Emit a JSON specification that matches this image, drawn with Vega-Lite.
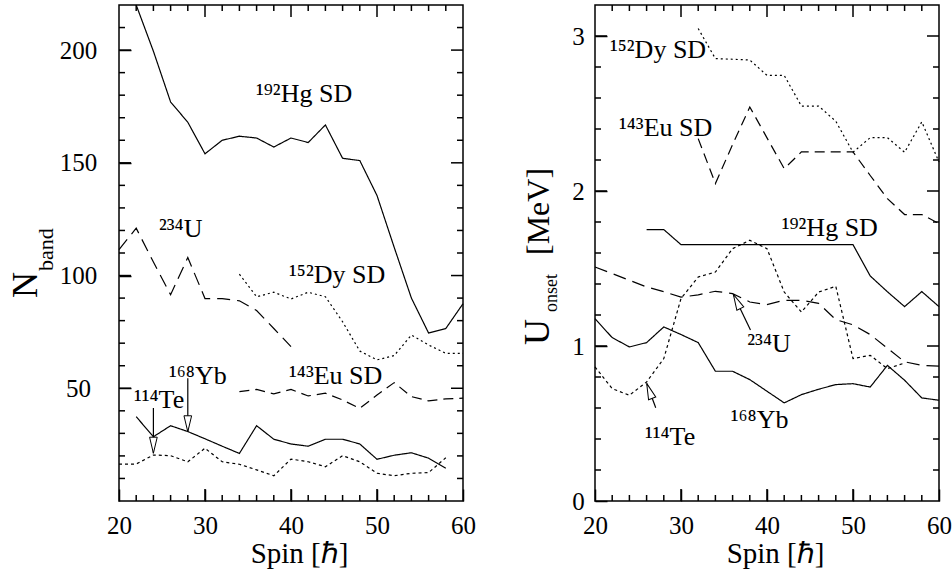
{
  "$schema": "https://vega.github.io/schema/vega-lite/v6.json",
  "background": "white",
  "padding": {"left": 7, "top": 1, "right": 0, "bottom": 0},
  "spacing": 42,
  "config": {
    "view": {"stroke": "black", "strokeWidth": 1.5},
    "axis": {
      "grid": false,
      "domain": false,
      "labelFont": "Liberation Serif",
      "labelFontSize": 25,
      "labelColor": "black",
      "labelFlush": false,
      "labelOverlap": false,
      "labelBound": false,
      "titleFont": "Liberation Serif",
      "titleFontSize": 29,
      "titleFontWeight": "normal",
      "titleColor": "black"
    },
    "text": {"font": "Liberation Serif", "color": "black"}
  },
  "datasets": {
    "nband": [
      {"series": "Hg192", "spin": 22, "value": 220}, {"series": "Hg192", "spin": 24, "value": 199.5}, {"series": "Hg192", "spin": 26, "value": 177}, {"series": "Hg192", "spin": 28, "value": 168}, {"series": "Hg192", "spin": 30, "value": 154}, {"series": "Hg192", "spin": 32, "value": 160}, {"series": "Hg192", "spin": 34, "value": 161.8}, {"series": "Hg192", "spin": 36, "value": 161}, {"series": "Hg192", "spin": 38, "value": 157}, {"series": "Hg192", "spin": 40, "value": 161}, {"series": "Hg192", "spin": 42, "value": 159}, {"series": "Hg192", "spin": 44, "value": 166.8}, {"series": "Hg192", "spin": 46, "value": 152}, {"series": "Hg192", "spin": 48, "value": 151}, {"series": "Hg192", "spin": 50, "value": 135.5}, {"series": "Hg192", "spin": 52, "value": 112.5}, {"series": "Hg192", "spin": 54, "value": 90}, {"series": "Hg192", "spin": 56, "value": 74.5}, {"series": "Hg192", "spin": 58, "value": 76.5}, {"series": "Hg192", "spin": 60, "value": 87.5},
      {"series": "U234", "spin": 20, "value": 111.5}, {"series": "U234", "spin": 22, "value": 121}, {"series": "U234", "spin": 24, "value": 106}, {"series": "U234", "spin": 26, "value": 91.5}, {"series": "U234", "spin": 28, "value": 108}, {"series": "U234", "spin": 30, "value": 89.8}, {"series": "U234", "spin": 32, "value": 89.8}, {"series": "U234", "spin": 34, "value": 88.8}, {"series": "U234", "spin": 36, "value": 84.5}, {"series": "U234", "spin": 38, "value": 76.5}, {"series": "U234", "spin": 40, "value": 68.5},
      {"series": "Dy152", "spin": 34, "value": 100.6}, {"series": "Dy152", "spin": 36, "value": 90.6}, {"series": "Dy152", "spin": 38, "value": 92.6}, {"series": "Dy152", "spin": 40, "value": 89.6}, {"series": "Dy152", "spin": 42, "value": 92.6}, {"series": "Dy152", "spin": 44, "value": 90.6}, {"series": "Dy152", "spin": 46, "value": 79.5}, {"series": "Dy152", "spin": 48, "value": 66.5}, {"series": "Dy152", "spin": 50, "value": 62.6}, {"series": "Dy152", "spin": 52, "value": 64.5}, {"series": "Dy152", "spin": 54, "value": 73.6}, {"series": "Dy152", "spin": 56, "value": 69.2}, {"series": "Dy152", "spin": 58, "value": 65.5}, {"series": "Dy152", "spin": 60, "value": 65.5},
      {"series": "Eu143", "spin": 34, "value": 48.5}, {"series": "Eu143", "spin": 36, "value": 49.5}, {"series": "Eu143", "spin": 38, "value": 47.5}, {"series": "Eu143", "spin": 40, "value": 49.5}, {"series": "Eu143", "spin": 42, "value": 46.6}, {"series": "Eu143", "spin": 44, "value": 47.8}, {"series": "Eu143", "spin": 46, "value": 44.8}, {"series": "Eu143", "spin": 48, "value": 41.1}, {"series": "Eu143", "spin": 50, "value": 47}, {"series": "Eu143", "spin": 52, "value": 52.5}, {"series": "Eu143", "spin": 54, "value": 46.3}, {"series": "Eu143", "spin": 56, "value": 44.4}, {"series": "Eu143", "spin": 58, "value": 45.3}, {"series": "Eu143", "spin": 60, "value": 45.6},
      {"series": "Yb168", "spin": 22, "value": 37.4}, {"series": "Yb168", "spin": 24, "value": 28.5}, {"series": "Yb168", "spin": 26, "value": 33.4}, {"series": "Yb168", "spin": 28, "value": 30.8}, {"series": "Yb168", "spin": 30, "value": 27.6}, {"series": "Yb168", "spin": 32, "value": 24.3}, {"series": "Yb168", "spin": 34, "value": 21.1}, {"series": "Yb168", "spin": 36, "value": 33.4}, {"series": "Yb168", "spin": 38, "value": 27.4}, {"series": "Yb168", "spin": 40, "value": 25.3}, {"series": "Yb168", "spin": 42, "value": 24.3}, {"series": "Yb168", "spin": 44, "value": 27.4}, {"series": "Yb168", "spin": 46, "value": 27.4}, {"series": "Yb168", "spin": 48, "value": 25.3}, {"series": "Yb168", "spin": 50, "value": 18.5}, {"series": "Yb168", "spin": 52, "value": 20.3}, {"series": "Yb168", "spin": 54, "value": 21.4}, {"series": "Yb168", "spin": 56, "value": 19}, {"series": "Yb168", "spin": 58, "value": 14.5},
      {"series": "Te114", "spin": 20, "value": 16.4}, {"series": "Te114", "spin": 22, "value": 16.4}, {"series": "Te114", "spin": 24, "value": 20.4}, {"series": "Te114", "spin": 26, "value": 20.1}, {"series": "Te114", "spin": 28, "value": 17.4}, {"series": "Te114", "spin": 30, "value": 23.4}, {"series": "Te114", "spin": 32, "value": 17.4}, {"series": "Te114", "spin": 34, "value": 16.3}, {"series": "Te114", "spin": 36, "value": 13.8}, {"series": "Te114", "spin": 38, "value": 11.2}, {"series": "Te114", "spin": 40, "value": 18.6}, {"series": "Te114", "spin": 42, "value": 17.4}, {"series": "Te114", "spin": 44, "value": 15.2}, {"series": "Te114", "spin": 46, "value": 20.1}, {"series": "Te114", "spin": 48, "value": 17.4}, {"series": "Te114", "spin": 50, "value": 12.3}, {"series": "Te114", "spin": 52, "value": 11.2}, {"series": "Te114", "spin": 54, "value": 12.3}, {"series": "Te114", "spin": 56, "value": 12.6}, {"series": "Te114", "spin": 58, "value": 19.2}
    ],
    "uonset": [
      {"series": "Dy152", "spin": 32, "value": 3.048}, {"series": "Dy152", "spin": 34, "value": 2.854}, {"series": "Dy152", "spin": 36, "value": 2.85}, {"series": "Dy152", "spin": 38, "value": 2.845}, {"series": "Dy152", "spin": 40, "value": 2.746}, {"series": "Dy152", "spin": 42, "value": 2.746}, {"series": "Dy152", "spin": 44, "value": 2.548}, {"series": "Dy152", "spin": 46, "value": 2.548}, {"series": "Dy152", "spin": 48, "value": 2.45}, {"series": "Dy152", "spin": 50, "value": 2.25}, {"series": "Dy152", "spin": 52, "value": 2.344}, {"series": "Dy152", "spin": 54, "value": 2.344}, {"series": "Dy152", "spin": 56, "value": 2.25}, {"series": "Dy152", "spin": 58, "value": 2.446}, {"series": "Dy152", "spin": 60, "value": 2.187},
      {"series": "Eu143", "spin": 32, "value": 2.338}, {"series": "Eu143", "spin": 34, "value": 2.048}, {"series": "Eu143", "spin": 36, "value": 2.3}, {"series": "Eu143", "spin": 38, "value": 2.542}, {"series": "Eu143", "spin": 40, "value": 2.343}, {"series": "Eu143", "spin": 42, "value": 2.144}, {"series": "Eu143", "spin": 44, "value": 2.252}, {"series": "Eu143", "spin": 46, "value": 2.252}, {"series": "Eu143", "spin": 48, "value": 2.252}, {"series": "Eu143", "spin": 50, "value": 2.252}, {"series": "Eu143", "spin": 52, "value": 2.1}, {"series": "Eu143", "spin": 54, "value": 1.951}, {"series": "Eu143", "spin": 56, "value": 1.848}, {"series": "Eu143", "spin": 58, "value": 1.848}, {"series": "Eu143", "spin": 60, "value": 1.79},
      {"series": "Hg192", "spin": 26, "value": 1.751}, {"series": "Hg192", "spin": 28, "value": 1.751}, {"series": "Hg192", "spin": 30, "value": 1.654}, {"series": "Hg192", "spin": 32, "value": 1.654}, {"series": "Hg192", "spin": 34, "value": 1.654}, {"series": "Hg192", "spin": 36, "value": 1.654}, {"series": "Hg192", "spin": 38, "value": 1.654}, {"series": "Hg192", "spin": 40, "value": 1.654}, {"series": "Hg192", "spin": 42, "value": 1.654}, {"series": "Hg192", "spin": 44, "value": 1.654}, {"series": "Hg192", "spin": 46, "value": 1.654}, {"series": "Hg192", "spin": 48, "value": 1.654}, {"series": "Hg192", "spin": 50, "value": 1.654}, {"series": "Hg192", "spin": 52, "value": 1.452}, {"series": "Hg192", "spin": 54, "value": 1.35}, {"series": "Hg192", "spin": 56, "value": 1.254}, {"series": "Hg192", "spin": 58, "value": 1.351}, {"series": "Hg192", "spin": 60, "value": 1.254},
      {"series": "U234", "spin": 20, "value": 1.51}, {"series": "U234", "spin": 22, "value": 1.467}, {"series": "U234", "spin": 24, "value": 1.424}, {"series": "U234", "spin": 26, "value": 1.381}, {"series": "U234", "spin": 28, "value": 1.35}, {"series": "U234", "spin": 30, "value": 1.315}, {"series": "U234", "spin": 32, "value": 1.33}, {"series": "U234", "spin": 34, "value": 1.353}, {"series": "U234", "spin": 36, "value": 1.338}, {"series": "U234", "spin": 38, "value": 1.284}, {"series": "U234", "spin": 40, "value": 1.267}, {"series": "U234", "spin": 42, "value": 1.295}, {"series": "U234", "spin": 44, "value": 1.295}, {"series": "U234", "spin": 46, "value": 1.275}, {"series": "U234", "spin": 48, "value": 1.17}, {"series": "U234", "spin": 50, "value": 1.137}, {"series": "U234", "spin": 52, "value": 1.074}, {"series": "U234", "spin": 54, "value": 0.986}, {"series": "U234", "spin": 56, "value": 0.898}, {"series": "U234", "spin": 58, "value": 0.875}, {"series": "U234", "spin": 60, "value": 0.87},
      {"series": "Te114", "spin": 20, "value": 0.865}, {"series": "Te114", "spin": 22, "value": 0.725}, {"series": "Te114", "spin": 24, "value": 0.682}, {"series": "Te114", "spin": 26, "value": 0.768}, {"series": "Te114", "spin": 28, "value": 0.919}, {"series": "Te114", "spin": 30, "value": 1.306}, {"series": "Te114", "spin": 32, "value": 1.445}, {"series": "Te114", "spin": 34, "value": 1.477}, {"series": "Te114", "spin": 36, "value": 1.628}, {"series": "Te114", "spin": 38, "value": 1.682}, {"series": "Te114", "spin": 40, "value": 1.628}, {"series": "Te114", "spin": 42, "value": 1.348}, {"series": "Te114", "spin": 44, "value": 1.219}, {"series": "Te114", "spin": 46, "value": 1.348}, {"series": "Te114", "spin": 48, "value": 1.385}, {"series": "Te114", "spin": 50, "value": 0.919}, {"series": "Te114", "spin": 52, "value": 0.94}, {"series": "Te114", "spin": 54, "value": 0.854}, {"series": "Te114", "spin": 56, "value": 0.89},
      {"series": "Yb168", "spin": 20, "value": 1.176}, {"series": "Yb168", "spin": 22, "value": 1.054}, {"series": "Yb168", "spin": 24, "value": 0.994}, {"series": "Yb168", "spin": 26, "value": 1.022}, {"series": "Yb168", "spin": 28, "value": 1.123}, {"series": "Yb168", "spin": 30, "value": 1.074}, {"series": "Yb168", "spin": 32, "value": 1.022}, {"series": "Yb168", "spin": 34, "value": 0.837}, {"series": "Yb168", "spin": 36, "value": 0.837}, {"series": "Yb168", "spin": 38, "value": 0.783}, {"series": "Yb168", "spin": 40, "value": 0.708}, {"series": "Yb168", "spin": 42, "value": 0.633}, {"series": "Yb168", "spin": 44, "value": 0.686}, {"series": "Yb168", "spin": 46, "value": 0.721}, {"series": "Yb168", "spin": 48, "value": 0.751}, {"series": "Yb168", "spin": 50, "value": 0.757}, {"series": "Yb168", "spin": 52, "value": 0.735}, {"series": "Yb168", "spin": 54, "value": 0.875}, {"series": "Yb168", "spin": 56, "value": 0.779}, {"series": "Yb168", "spin": 58, "value": 0.665}, {"series": "Yb168", "spin": 60, "value": 0.65}
    ],
    "labL": [
      {"spin": 35.93, "value": 177, "text": "¹⁹²Hg SD"},
      {"spin": 24.65, "value": 117.1, "text": "²³⁴U"},
      {"spin": 39.77, "value": 96.8, "text": "¹⁵²Dy SD"},
      {"spin": 39.77, "value": 51.8, "text": "¹⁴³Eu SD"},
      {"spin": 25.81, "value": 51.8, "text": "¹⁶⁸Yb"},
      {"spin": 21.74, "value": 41.4, "text": "¹¹⁴Te"}
    ],
    "labR": [
      {"spin": 21.74, "value": 2.856, "text": "¹⁵²Dy SD"},
      {"spin": 22.79, "value": 2.357, "text": "¹⁴³Eu SD"},
      {"spin": 41.71, "value": 1.712, "text": "¹⁹²Hg SD"},
      {"spin": 37.71, "value": 0.959, "text": "²³⁴U"},
      {"spin": 35.78, "value": 0.469, "text": "¹⁶⁸Yb"},
      {"spin": 25.81, "value": 0.361, "text": "¹¹⁴Te"}
    ],
    "arrL": [
      {"name": "114Te", "spin": 24, "value": 41.2, "spin2": 24, "value2": 21.2},
      {"name": "168Yb", "spin": 28, "value": 54.4, "spin2": 28, "value2": 30.7}
    ],
    "arrR": [
      {"name": "234U", "spin": 38.08, "value": 1.103, "spin2": 36.08, "value2": 1.334},
      {"name": "114Te", "spin": 27.06, "value": 0.602, "spin2": 26.01, "value2": 0.759}
    ],
    "txMaj": [{"spin": 30}, {"spin": 40}, {"spin": 50}],
    "txMin": [{"spin": 22}, {"spin": 24}, {"spin": 26}, {"spin": 28}, {"spin": 32}, {"spin": 34}, {"spin": 36}, {"spin": 38}, {"spin": 42}, {"spin": 44}, {"spin": 46}, {"spin": 48}, {"spin": 52}, {"spin": 54}, {"spin": 56}, {"spin": 58}],
    "tyLMaj": [{"value": 50}, {"value": 100}, {"value": 150}, {"value": 200}],
    "tyLMin": [{"value": 10}, {"value": 20}, {"value": 30}, {"value": 40}, {"value": 60}, {"value": 70}, {"value": 80}, {"value": 90}, {"value": 110}, {"value": 120}, {"value": 130}, {"value": 140}, {"value": 160}, {"value": 170}, {"value": 180}, {"value": 190}, {"value": 210}],
    "tyRMaj": [{"value": 1}, {"value": 2}, {"value": 3}],
    "tyRMin": [{"value": 0.2}, {"value": 0.4}, {"value": 0.6}, {"value": 0.8}, {"value": 1.2}, {"value": 1.4}, {"value": 1.6}, {"value": 1.8}, {"value": 2.2}, {"value": 2.4}, {"value": 2.6}, {"value": 2.8}]
  },
  "hconcat": [
    {
      "width": 344,
      "height": 496,
      "layer": [
        {
          "data": {"name": "nband"},
          "mark": {"type": "line", "color": "black", "strokeWidth": 1.2},
          "encoding": {
            "x": {"field": "spin", "type": "quantitative", "scale": {"domain": [20, 60], "nice": false, "zero": false},
              "axis": {"orient": "bottom", "values": [20, 30, 40, 50, 60], "format": "d", "ticks": true, "tickSize": -12, "tickWidth": 1.5, "tickColor": "black", "tickOpacity": 1, "labelPadding": 44.3, "labelBaseline": "alphabetic", "labelAlign": "center",
                "title": "Spin [ℏ]", "titleX": 180, "titleY": 61.5, "titleBaseline": "alphabetic", "titleAlign": "center"}},
            "y": {"field": "value", "type": "quantitative", "scale": {"domain": [0, 220], "nice": false, "zero": false},
              "axis": {"orient": "left", "values": [50, 100, 150, 200], "format": "d", "ticks": true, "tickSize": -12, "tickWidth": 1.5, "tickColor": "black", "tickOpacity": 1, "labelPadding": 53, "labelAlign": "center", "labelBaseline": "middle", "title": null}},
            "strokeDash": {"field": "series", "type": "nominal", "legend": null,
              "scale": {"domain": ["Hg192", "U234", "Dy152", "Eu143", "Yb168", "Te114"], "range": [[1, 0], [13, 7], [2, 3], [10, 6], [1, 0], [3, 3]]}}
          }
        },
        {
          "data": {"name": "arrL"},
          "mark": {"type": "rule", "color": "black", "strokeWidth": 1.2},
          "encoding": {
            "x": {"field": "spin", "type": "quantitative"},
            "y": {"field": "value", "type": "quantitative"},
            "x2": {"field": "spin2"},
            "y2": {"field": "value2"}
          }
        },
        {
          "data": {"name": "arrL"},
          "mark": {"type": "point", "shape": "M0,0L-0.42,-1.76L0.42,-1.76Z", "size": 331, "filled": true, "fill": "white", "stroke": "black", "strokeWidth": 1, "opacity": 1},
          "encoding": {
            "x": {"field": "spin2", "type": "quantitative"},
            "y": {"field": "value2", "type": "quantitative"}
          }
        },
        {
          "data": {"name": "labL"},
          "mark": {"type": "text", "align": "left", "baseline": "alphabetic", "fontSize": 26},
          "encoding": {
            "x": {"field": "spin", "type": "quantitative"},
            "y": {"field": "value", "type": "quantitative"},
            "text": {"field": "text", "type": "nominal"}
          }
        },
        {
          "data": {"values": [{}]},
          "mark": {"type": "text", "text": "N", "align": "left", "baseline": "alphabetic", "angle": 270, "fontSize": 36},
          "encoding": {
            "x": {"datum": 10.47, "type": "quantitative"},
            "y": {"datum": 90, "type": "quantitative"}
          }
        },
        {
          "data": {"values": [{}]},
          "mark": {"type": "text", "text": "band", "align": "left", "baseline": "alphabetic", "angle": 270, "fontSize": 22},
          "encoding": {
            "x": {"datum": 12.29, "type": "quantitative"},
            "y": {"datum": 102, "type": "quantitative"}
          }
        },
        {
          "data": {"name": "txMaj"},
          "mark": {"type": "rule", "color": "black", "strokeWidth": 1.5},
          "encoding": {"x": {"field": "spin", "type": "quantitative"}, "y": {"datum": 0, "type": "quantitative"}, "y2": {"datum": 5.32}}
        },
        {
          "data": {"name": "txMaj"},
          "mark": {"type": "rule", "color": "black", "strokeWidth": 1.5},
          "encoding": {"x": {"field": "spin", "type": "quantitative"}, "y": {"datum": 220, "type": "quantitative"}, "y2": {"datum": 214.68}}
        },
        {
          "data": {"name": "txMin"},
          "mark": {"type": "rule", "color": "black", "strokeWidth": 1.5},
          "encoding": {"x": {"field": "spin", "type": "quantitative"}, "y": {"datum": 0, "type": "quantitative"}, "y2": {"datum": 2.66}}
        },
        {
          "data": {"name": "txMin"},
          "mark": {"type": "rule", "color": "black", "strokeWidth": 1.5},
          "encoding": {"x": {"field": "spin", "type": "quantitative"}, "y": {"datum": 220, "type": "quantitative"}, "y2": {"datum": 217.34}}
        },
        {
          "data": {"name": "tyLMaj"},
          "mark": {"type": "rule", "color": "black", "strokeWidth": 1.5},
          "encoding": {"y": {"field": "value", "type": "quantitative"}, "x": {"datum": 20, "type": "quantitative"}, "x2": {"datum": 21.395}}
        },
        {
          "data": {"name": "tyLMaj"},
          "mark": {"type": "rule", "color": "black", "strokeWidth": 1.5},
          "encoding": {"y": {"field": "value", "type": "quantitative"}, "x": {"datum": 60, "type": "quantitative"}, "x2": {"datum": 58.605}}
        },
        {
          "data": {"name": "tyLMin"},
          "mark": {"type": "rule", "color": "black", "strokeWidth": 1.5},
          "encoding": {"y": {"field": "value", "type": "quantitative"}, "x": {"datum": 20, "type": "quantitative"}, "x2": {"datum": 20.698}}
        },
        {
          "data": {"name": "tyLMin"},
          "mark": {"type": "rule", "color": "black", "strokeWidth": 1.5},
          "encoding": {"y": {"field": "value", "type": "quantitative"}, "x": {"datum": 60, "type": "quantitative"}, "x2": {"datum": 59.302}}
        }
      ]
    },
    {
      "width": 344,
      "height": 496,
      "layer": [
        {
          "data": {"name": "uonset"},
          "mark": {"type": "line", "color": "black", "strokeWidth": 1.2},
          "encoding": {
            "x": {"field": "spin", "type": "quantitative", "scale": {"domain": [20, 60], "nice": false, "zero": false},
              "axis": {"orient": "bottom", "values": [20, 30, 40, 50, 60], "format": "d", "ticks": true, "tickSize": -12, "tickWidth": 1.5, "tickColor": "black", "tickOpacity": 1, "labelPadding": 44.3, "labelBaseline": "alphabetic", "labelAlign": "center",
                "title": "Spin [ℏ]", "titleX": 180, "titleY": 61.5, "titleBaseline": "alphabetic", "titleAlign": "center"}},
            "y": {"field": "value", "type": "quantitative", "scale": {"domain": [0, 3.2], "nice": false, "zero": false},
              "axis": {"orient": "left", "values": [0, 1, 2, 3], "format": "d", "ticks": true, "tickSize": -12, "tickWidth": 1.5, "tickColor": "black", "tickOpacity": 1, "labelPadding": 29, "labelAlign": "center", "labelBaseline": "middle", "title": null}},
            "strokeDash": {"field": "series", "type": "nominal", "legend": null,
              "scale": {"domain": ["Hg192", "U234", "Dy152", "Eu143", "Yb168", "Te114"], "range": [[1, 0], [13, 7], [2, 3], [10, 6], [1, 0], [3, 3]]}}
          }
        },
        {
          "data": {"name": "arrR"},
          "mark": {"type": "rule", "color": "black", "strokeWidth": 1.2},
          "encoding": {
            "x": {"field": "spin", "type": "quantitative"},
            "y": {"field": "value", "type": "quantitative"},
            "x2": {"field": "spin2"},
            "y2": {"field": "value2"}
          }
        },
        {
          "data": {"name": "arrR"},
          "transform": [{"filter": "datum.name === '234U'"}],
          "mark": {"type": "point", "shape": "M0,0L-0.42,-1.76L0.42,-1.76Z", "size": 331, "angle": 154, "filled": true, "fill": "white", "stroke": "black", "strokeWidth": 1, "opacity": 1},
          "encoding": {
            "x": {"field": "spin2", "type": "quantitative"},
            "y": {"field": "value2", "type": "quantitative"}
          }
        },
        {
          "data": {"name": "arrR"},
          "transform": [{"filter": "datum.name === '114Te'"}],
          "mark": {"type": "point", "shape": "M0,0L-0.42,-1.76L0.42,-1.76Z", "size": 331, "angle": 160, "filled": true, "fill": "white", "stroke": "black", "strokeWidth": 1, "opacity": 1},
          "encoding": {
            "x": {"field": "spin2", "type": "quantitative"},
            "y": {"field": "value2", "type": "quantitative"}
          }
        },
        {
          "data": {"name": "labR"},
          "mark": {"type": "text", "align": "left", "baseline": "alphabetic", "fontSize": 26},
          "encoding": {
            "x": {"field": "spin", "type": "quantitative"},
            "y": {"field": "value", "type": "quantitative"},
            "text": {"field": "text", "type": "nominal"}
          }
        },
        {
          "data": {"values": [{}]},
          "mark": {"type": "text", "text": "U", "align": "left", "baseline": "alphabetic", "angle": 270, "fontSize": 36},
          "encoding": {
            "x": {"datum": 14.65, "type": "quantitative"},
            "y": {"datum": 1.006, "type": "quantitative"}
          }
        },
        {
          "data": {"values": [{}]},
          "mark": {"type": "text", "text": "onset", "align": "left", "baseline": "alphabetic", "angle": 270, "fontSize": 18},
          "encoding": {
            "x": {"datum": 15.58, "type": "quantitative"},
            "y": {"datum": 1.219, "type": "quantitative"}
          }
        },
        {
          "data": {"values": [{}]},
          "mark": {"type": "text", "text": "[MeV]", "align": "left", "baseline": "alphabetic", "angle": 270, "fontSize": 32},
          "encoding": {
            "x": {"datum": 14.65, "type": "quantitative"},
            "y": {"datum": 1.587, "type": "quantitative"}
          }
        },
        {
          "data": {"name": "txMaj"},
          "mark": {"type": "rule", "color": "black", "strokeWidth": 1.5},
          "encoding": {"x": {"field": "spin", "type": "quantitative"}, "y": {"datum": 0, "type": "quantitative"}, "y2": {"datum": 0.0774}}
        },
        {
          "data": {"name": "txMaj"},
          "mark": {"type": "rule", "color": "black", "strokeWidth": 1.5},
          "encoding": {"x": {"field": "spin", "type": "quantitative"}, "y": {"datum": 3.2, "type": "quantitative"}, "y2": {"datum": 3.1226}}
        },
        {
          "data": {"name": "txMin"},
          "mark": {"type": "rule", "color": "black", "strokeWidth": 1.5},
          "encoding": {"x": {"field": "spin", "type": "quantitative"}, "y": {"datum": 0, "type": "quantitative"}, "y2": {"datum": 0.0387}}
        },
        {
          "data": {"name": "txMin"},
          "mark": {"type": "rule", "color": "black", "strokeWidth": 1.5},
          "encoding": {"x": {"field": "spin", "type": "quantitative"}, "y": {"datum": 3.2, "type": "quantitative"}, "y2": {"datum": 3.1613}}
        },
        {
          "data": {"name": "tyRMaj"},
          "mark": {"type": "rule", "color": "black", "strokeWidth": 1.5},
          "encoding": {"y": {"field": "value", "type": "quantitative"}, "x": {"datum": 20, "type": "quantitative"}, "x2": {"datum": 21.395}}
        },
        {
          "data": {"name": "tyRMaj"},
          "mark": {"type": "rule", "color": "black", "strokeWidth": 1.5},
          "encoding": {"y": {"field": "value", "type": "quantitative"}, "x": {"datum": 60, "type": "quantitative"}, "x2": {"datum": 58.605}}
        },
        {
          "data": {"name": "tyRMin"},
          "mark": {"type": "rule", "color": "black", "strokeWidth": 1.5},
          "encoding": {"y": {"field": "value", "type": "quantitative"}, "x": {"datum": 20, "type": "quantitative"}, "x2": {"datum": 20.698}}
        },
        {
          "data": {"name": "tyRMin"},
          "mark": {"type": "rule", "color": "black", "strokeWidth": 1.5},
          "encoding": {"y": {"field": "value", "type": "quantitative"}, "x": {"datum": 60, "type": "quantitative"}, "x2": {"datum": 59.302}}
        }
      ]
    }
  ]
}
